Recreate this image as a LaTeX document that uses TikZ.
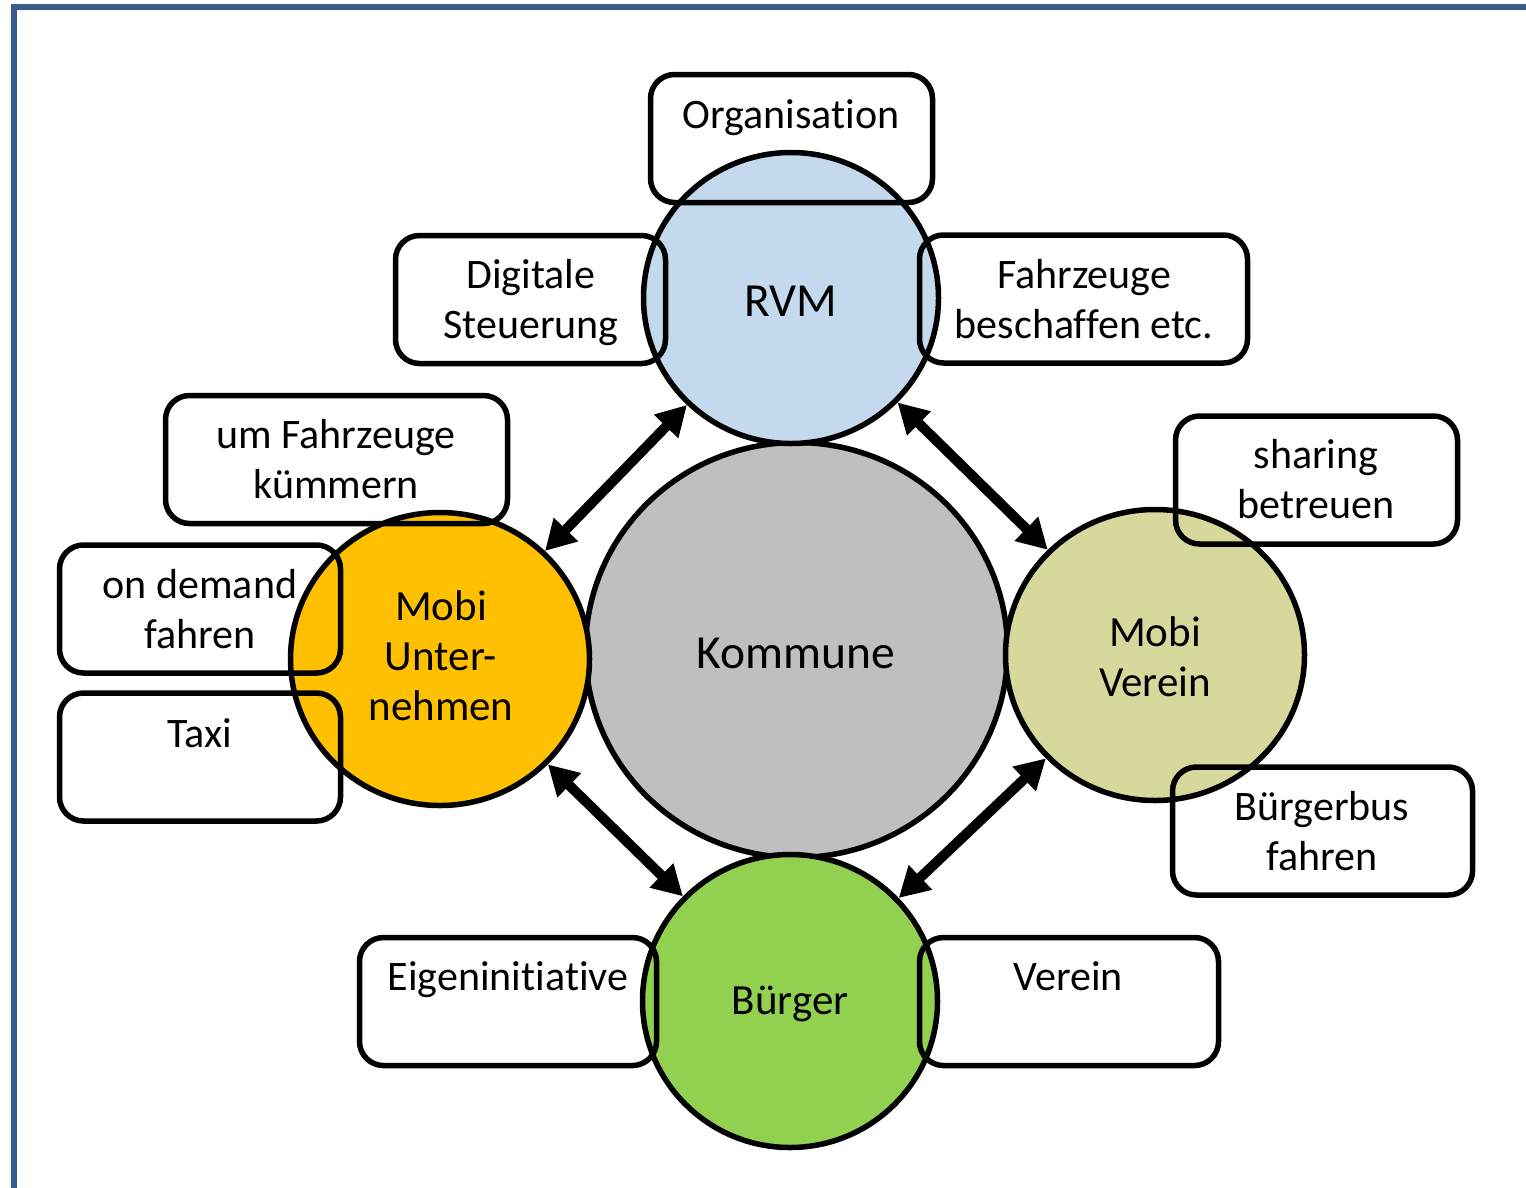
\documentclass[tikz,border=0pt]{standalone}
\usepackage{fontspec}
\setmainfont{Carlito}[Ligatures={NoCommon}]
\usetikzlibrary{arrows.meta,shapes.geometric}
\definecolor{frameblue}{HTML}{385D8A}
\definecolor{rvmblue}{HTML}{C5D9EE}
\definecolor{komgray}{HTML}{BFBFBF}
\definecolor{unterorange}{HTML}{FFC000}
\definecolor{vereinolive}{HTML}{D7D99C}
\definecolor{buergergreen}{HTML}{92D050}
\begin{document}
\begin{tikzpicture}[x=1pt,y=-1pt,
  blob/.style={ellipse,draw=black,line width=5.5pt,inner sep=0pt},
  box/.style={rectangle,rounded corners=24pt,draw=black,line width=5.5pt,inner sep=0pt,minimum height=128pt},
  txt/.style={anchor=base,inner sep=0pt,font=\fontsize{42}{50}\selectfont},
  ctxt/.style={anchor=base,inner sep=0pt,font=\fontsize{43}{50}\selectfont},
  link/.style={{Triangle[length=30pt,width=32pt]}-{Triangle[length=30pt,width=32pt]},line width=10pt}
]
\useasboundingbox (0,0) rectangle (1526,1187);
% frame
\coordinate (fbl) at (14,1195);
\coordinate (ftl) at (14,7);
\coordinate (ftr) at (1535,7);
\draw[frameblue,line width=6pt] (fbl) -- (ftl) -- (ftr);

% circles
\node[blob,fill=komgray,minimum width=422pt,minimum height=415pt] (kom) at (796.5,650) {};
\node[blob,fill=rvmblue,minimum width=295pt,minimum height=291pt] (rvm) at (791,298) {};
\node[blob,fill=unterorange,minimum width=299pt,minimum height=293pt] (mu) at (440,659) {};
\node[blob,fill=vereinolive,minimum width=299pt,minimum height=291pt] (mv) at (1155,655) {};
\node[blob,fill=buergergreen,minimum width=295pt,minimum height=293pt] (bu) at (790,1001) {};

% circle texts
\node[anchor=base,inner sep=0pt,font=\fontsize{47.5}{50}\selectfont] (kom-t) at (796,668) {Kommune};
\node[anchor=base,inner sep=0pt,font=\fontsize{47.5}{50}\selectfont] (rvm-t) at (791,316) {RVM};
\node[ctxt] (mu-t1) at (441,620) {Mobi};
\node[ctxt] (mu-t2) at (441,670) {Unter-};
\node[ctxt] (mu-t3) at (441,720) {nehmen};
\node[ctxt] (mv-t1) at (1155,646) {Mobi};
\node[ctxt] (mv-t2) at (1155,696) {Verein};
\node[ctxt] (bu-t) at (790,1014) {Bürger};

% boxes
\node[box,minimum width=282pt] (org) at (791.5,138.5) {};
\node[box,minimum width=270pt] (dig) at (530.5,299.5) {};
\node[box,minimum width=328pt] (fzb) at (1083.5,299) {};
\node[box,minimum width=342pt] (umf) at (336.5,459.5) {};
\node[box,minimum width=281pt] (ond) at (200,609) {};
\node[box,minimum width=281pt] (taxi) at (200,757) {};
\node[box,minimum width=282pt] (shar) at (1316.5,480) {};
\node[box,minimum width=300pt] (bbus) at (1322.5,831) {};
\node[box,minimum width=297pt] (eig) at (508,1001.5) {};
\node[box,minimum width=299pt] (ver) at (1069,1001.5) {};

% box texts
\node[txt] (org-t) at (791,128) {Organisation};
\node[txt] (dig-t1) at (531,288) {Digitale};
\node[txt] (dig-t2) at (531,338) {Steuerung};
\node[txt] (fzb-t1) at (1084,288) {Fahrzeuge};
\node[txt] (fzb-t2) at (1084,338) {beschaffen etc.};
\node[txt] (umf-t1) at (336,448) {um Fahrzeuge};
\node[txt] (umf-t2) at (336,498) {kümmern};
\node[txt] (ond-t1) at (200,598) {on demand};
\node[txt] (ond-t2) at (200,648) {fahren};
\node[txt] (taxi-t) at (200,747) {Taxi};
\node[txt] (shar-t1) at (1316,468) {sharing};
\node[txt] (shar-t2) at (1316,518) {betreuen};
\node[txt] (bbus-t1) at (1322,820) {Bürgerbus};
\node[txt] (bbus-t2) at (1322,870) {fahren};
\node[txt] (eig-t) at (508,990) {Eigeninitiative};
\node[txt] (ver-t) at (1068,990) {Verein};

% connectors
\draw[link] (rvm) -- (mu);
\draw[link] (rvm) -- (mv);
\draw[link] (mu) -- (bu);
\draw[link] (mv) -- (bu);
\end{tikzpicture}
\end{document}
